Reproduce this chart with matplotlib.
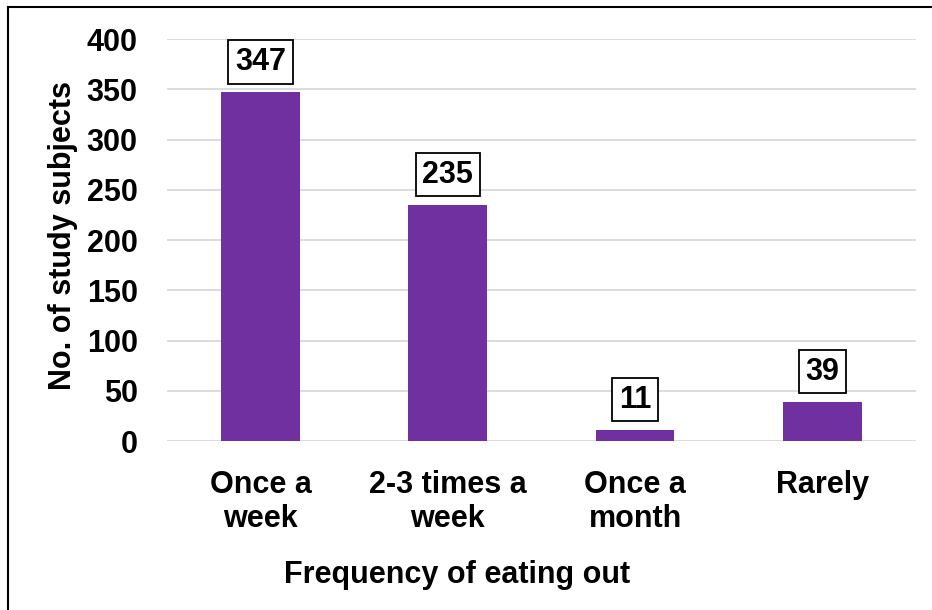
import matplotlib.pyplot as plt
from matplotlib.lines import Line2D

plt.rcParams["font.family"] = ["Liberation Sans", "DejaVu Sans"]
plt.rcParams["font.weight"] = "bold"

CATEGORIES = ["Once a\nweek", "2-3 times a\nweek", "Once a\nmonth", "Rarely"]
COUNTS = [347, 235, 11, 39]
YTICKS = [0, 50, 100, 150, 200, 250, 300, 350, 400]

BAR_COLOR = "#7030A0"
GRID_COLOR = "#d9d9d9"
FS = 22

fig = plt.figure(figsize=(9.32, 6.10), dpi=100)
ax = fig.add_axes([0.179, 0.277, 0.804, 0.659])

x = range(len(CATEGORIES))
bars = ax.bar(x, COUNTS, width=0.42, color=BAR_COLOR, zorder=3)

for b, v in zip(bars, COUNTS):
    ax.annotate(str(v), (b.get_x() + b.get_width() / 2, v),
                xytext=(0, 11), textcoords="offset points",
                ha="center", va="bottom", fontsize=FS, fontweight="bold",
                bbox=dict(boxstyle="square,pad=0.22", fc="white", ec="black", lw=1.3))

ax.set_ylim(0, 400)
ax.set_xlim(-0.5, len(CATEGORIES) - 0.5)
ax.set_yticks(YTICKS)
ax.set_xticks(list(x))
ax.set_xticklabels(CATEGORIES, fontsize=FS, fontweight="bold", linespacing=1.15)
ax.tick_params(axis="y", labelsize=FS, length=0, pad=21)
ax.tick_params(axis="x", length=0, pad=21)
ax.grid(axis="y", color=GRID_COLOR, lw=1.3, zorder=0)
for s in ax.spines.values():
    s.set_visible(False)

ax.set_ylabel("No. of study subjects", fontsize=FS, fontweight="bold", labelpad=6)
ax.yaxis.label.set_y(0.512)

# x-axis title sits left of the plot centre, as in the original
fig.text(457 / 932, 1 - 575 / 610, "Frequency of eating out", fontsize=FS,
         fontweight="bold", ha="center", va="center")

# outer frame (left and top edges only)
fig.add_artist(Line2D([0.0091, 0.0091], [0, 0.9885], transform=fig.transFigure, color="black", lw=1.5))
fig.add_artist(Line2D([0.0091, 1.0], [0.9885, 0.9885], transform=fig.transFigure, color="black", lw=1.5))

fig.savefig("out.png", dpi=100)
